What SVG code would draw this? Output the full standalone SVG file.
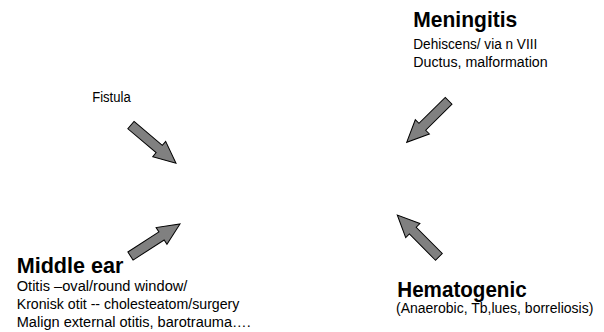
<svg xmlns="http://www.w3.org/2000/svg" xmlns:xlink="http://www.w3.org/1999/xlink" width="604" height="332" viewBox="0 0 604 332">
<style>
.t{font-family:"Liberation Sans",Arial,sans-serif;font-size:14.67px;fill:#000}
.h{font-family:"Liberation Sans",Arial,sans-serif;font-size:21.33px;font-weight:bold;fill:#000}
.arr{fill:#808080;stroke:#000;stroke-width:1;stroke-linejoin:miter}
</style>
<defs>
<polygon id="arrow" class="arr" points="-59,-4.8 -22,-4.8 -22,-10 0,0 -22,10 -22,4.8 -59,4.8"/>
</defs>
<rect width="604" height="332" fill="#fff"/>
<g id="connectors">
<use xlink:href="#arrow" transform="translate(176,163.2) rotate(40.2)"/>
<use xlink:href="#arrow" transform="translate(180,224) rotate(-32.9)"/>
<use xlink:href="#arrow" transform="translate(406.7,142.3) rotate(135.3)"/>
<use xlink:href="#arrow" transform="translate(397.3,215) rotate(225.2)"/>
</g>
<g id="fistula">
<text class="t" x="92.2" y="102" textLength="38.5" lengthAdjust="spacingAndGlyphs">Fistula</text>
</g>
<g id="meningitis">
<text class="h" x="413.3" y="27.3" textLength="104" lengthAdjust="spacingAndGlyphs">Meningitis</text>
<text class="t" x="413.3" y="49.3" textLength="124" lengthAdjust="spacingAndGlyphs">Dehiscens/ via n VIII</text>
<text class="t" x="413.3" y="66.7" textLength="134.3" lengthAdjust="spacingAndGlyphs">Ductus, malformation</text>
</g>
<g id="middle-ear">
<text class="h" x="16.7" y="273.3" textLength="106.7" lengthAdjust="spacingAndGlyphs">Middle ear</text>
<text class="t" x="16.7" y="290.7" textLength="170.7" lengthAdjust="spacingAndGlyphs">Otitis –oval/round window/</text>
<text class="t" x="16.7" y="309" textLength="222.7" lengthAdjust="spacingAndGlyphs">Kronisk otit -- cholesteatom/surgery</text>
<text class="t" x="16.7" y="327" textLength="234" lengthAdjust="spacingAndGlyphs">Malign external otitis, barotrauma….</text>
</g>
<g id="hematogenic">
<text class="h" x="397.3" y="296.7" textLength="129.3" lengthAdjust="spacingAndGlyphs">Hematogenic</text>
<text class="t" x="396" y="313.3" textLength="197.3" lengthAdjust="spacingAndGlyphs">(Anaerobic,  Tb,lues, borreliosis)</text>
</g>
</svg>
